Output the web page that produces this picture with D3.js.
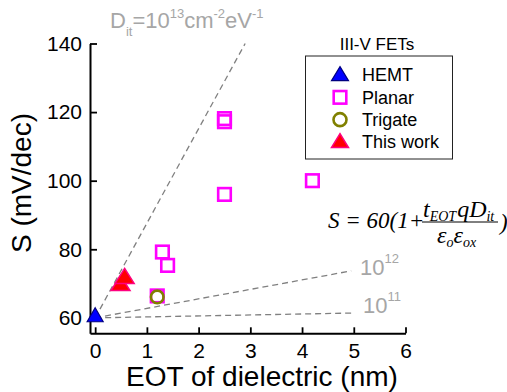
<!DOCTYPE html>
<html>
<head>
<meta charset="utf-8">
<script src="https://d3js.org/d3.v7.min.js"></script>
<style>
  body { margin: 0; background: #fff; }
  svg { font-family: Arial, "Liberation Sans", sans-serif; }
</style>
</head>
<body>
<svg width="507" height="392"></svg>
<script>
// data
const hemt = [[0, 60.5]];
const planar = [[2.5, 118.1], [2.5, 117.2], [2.5, 96], [4.2, 100], [1.3, 79.2], [1.4, 75.3], [1.2, 66.4]];
const trigate = [[1.2, 66.1]];
const thisWork = [[0.49, 69.7], [0.57, 71.8]];

// D_it guide lines (endpoints)
const dit13 = [[0, 60], [2.9, 140]];
const dit12 = [[0, 60], [4.95, 73.7]];
const dit11 = [[0, 60], [4.95, 61.4]];

const xTicks = [0, 1, 2, 3, 4, 5, 6];
const yTicks = [60, 80, 100, 120, 140];
const legendItems = ["HEMT", "Planar", "Trigate", "This work"];

const svg = d3.select("svg");

const x = d3.scaleLinear().domain([-0.1, 6]).range([90, 405.5]);
const y = d3.scaleLinear().domain([55.5, 140]).range([333.3, 43.5]);

// guide lines
const line = d3.line().x(d => x(d[0])).y(d => y(d[1]));
svg.selectAll(".guide")
    .data([dit13, dit12, dit11])
    .join("path")
    .attr("class", "guide")
    .attr("d", line)
    .attr("fill", "none")
    .attr("stroke", "#808080")
    .attr("stroke-width", 1.3)
    .attr("stroke-dasharray", "6,4");

// axes
const yAxis = svg.append("g").attr("transform", "translate(90,0)");
yAxis.call(d3.axisLeft(y).tickValues(d3.range(70, 140, 20)).tickSize(-4).tickFormat(""));
yAxis.call(d3.axisLeft(y).tickValues(yTicks).tickSize(-7).tickPadding(8).tickSizeOuter(0).tickFormat(d3.format("d")));
yAxis.selectAll("text").attr("font-size", 21).attr("fill", "#000").attr("font-family", null);

const xAxis = svg.append("g").attr("transform", "translate(0,333.3)");
xAxis.call(d3.axisBottom(x).tickValues(d3.range(0.5, 6, 1)).tickSize(-4).tickFormat(""));
xAxis.call(d3.axisBottom(x).tickValues(xTicks).tickSize(-6).tickPadding(10).tickSizeOuter(0).tickFormat(d3.format("d")));
xAxis.selectAll("text").attr("font-size", 21).attr("fill", "#000").attr("font-family", null);

svg.selectAll(".domain").attr("stroke", "#000").attr("stroke-width", 2);
svg.selectAll(".tick line").attr("stroke", "#000").attr("stroke-width", 1.8);

// axis titles
svg.append("text")
    .attr("x", 262).attr("y", 386)
    .attr("text-anchor", "middle")
    .attr("font-size", 28)
    .text("EOT of dielectric (nm)");

svg.append("text")
    .attr("transform", "translate(31,183) rotate(-90)")
    .attr("text-anchor", "middle")
    .attr("font-size", 28)
    .text("S (mV/dec)");

// marker shapes
function triPath(w, h) {
  return `M0,${-h * 0.6}L${w / 2},${h * 0.4}L${-w / 2},${h * 0.4}Z`;
}

svg.selectAll(".planar")
    .data(planar)
    .join("rect")
    .attr("class", "planar")
    .attr("x", d => x(d[0]) - 6.3).attr("y", d => y(d[1]) - 6.3)
    .attr("width", 12.6).attr("height", 12.6)
    .attr("fill", "none")
    .attr("stroke", "#FF00FF")
    .attr("stroke-width", 2.6);

svg.selectAll(".trigate")
    .data(trigate)
    .join("circle")
    .attr("class", "trigate")
    .attr("cx", d => x(d[0])).attr("cy", d => y(d[1]))
    .attr("r", 6.3)
    .attr("fill", "none")
    .attr("stroke", "#808000")
    .attr("stroke-width", 2.6);

svg.selectAll(".hemt")
    .data(hemt)
    .join("path")
    .attr("class", "hemt")
    .attr("transform", d => `translate(${x(d[0])},${y(d[1])})`)
    .attr("d", triPath(16, 14))
    .attr("fill", "#0000FF")
    .attr("stroke", "#000080")
    .attr("stroke-width", 1.2);

svg.selectAll(".thiswork")
    .data(thisWork)
    .join("path")
    .attr("class", "thiswork")
    .attr("transform", d => `translate(${x(d[0])},${y(d[1])})`)
    .attr("d", triPath(19, 15))
    .attr("fill", "#FF0000")
    .attr("stroke", "#FF0080")
    .attr("stroke-width", 1.5);

// guide labels
const gray = "#a6a6a6";
const t13 = svg.append("text").attr("x", 110).attr("y", 28).attr("font-size", 22).attr("fill", gray);
t13.append("tspan").text("D");
t13.append("tspan").attr("font-size", 13).attr("dy", 8).text("it");
t13.append("tspan").attr("dy", -8).text("=10");
t13.append("tspan").attr("font-size", 13).attr("dy", -10).text("13");
t13.append("tspan").attr("dy", 10).text("cm");
t13.append("tspan").attr("font-size", 13).attr("dy", -10).text("-2");
t13.append("tspan").attr("dy", 10).text("eV");
t13.append("tspan").attr("font-size", 13).attr("dy", -10).text("-1");

function powLabel(px, py, exp) {
  const t = svg.append("text").attr("x", px).attr("y", py).attr("font-size", 22).attr("fill", gray);
  t.append("tspan").text("10");
  t.append("tspan").attr("font-size", 13).attr("dy", -12).text(exp);
}
powLabel(360, 275, "12");
powLabel(363, 313, "11");

// legend
svg.append("text")
    .attr("x", 377).attr("y", 50)
    .attr("text-anchor", "middle")
    .attr("font-size", 17)
    .text("III-V FETs");

svg.append("rect")
    .attr("x", 305.5).attr("y", 56)
    .attr("width", 147).attr("height", 103)
    .attr("fill", "#fff")
    .attr("stroke", "#222")
    .attr("stroke-width", 1);

const legendY = d3.scalePoint().domain(legendItems).range([75, 142]);
const lg = svg.selectAll(".lg")
    .data(legendItems)
    .join("g")
    .attr("class", "lg")
    .attr("transform", d => `translate(340,${legendY(d)})`);

lg.append("text")
    .attr("x", 22).attr("y", 0)
    .attr("dy", "0.36em")
    .attr("font-size", 18)
    .text(d => d);

lg.filter(d => d === "HEMT").append("path")
    .attr("d", triPath(17, 14))
    .attr("fill", "#0000FF").attr("stroke", "#000080").attr("stroke-width", 1.2);
lg.filter(d => d === "Planar").append("rect")
    .attr("x", -6.3).attr("y", -6.3).attr("width", 12.6).attr("height", 12.6)
    .attr("fill", "none").attr("stroke", "#FF00FF").attr("stroke-width", 2.6);
lg.filter(d => d === "Trigate").append("circle")
    .attr("r", 6.5)
    .attr("fill", "none").attr("stroke", "#808000").attr("stroke-width", 2.6);
lg.filter(d => d === "This work").append("path")
    .attr("d", triPath(17, 14))
    .attr("fill", "#FF0000").attr("stroke", "#FF0080").attr("stroke-width", 1.5);

// formula
const serif = "'Times New Roman', 'Liberation Serif', serif";
const f = svg.append("g").attr("font-family", serif).attr("font-style", "italic");
f.append("text").attr("x", 328).attr("y", 228).attr("font-size", 23).text("S = 60(1+");
const num = f.append("text").attr("x", 423).attr("y", 217).attr("font-size", 24);
num.append("tspan").text("t");
num.append("tspan").attr("font-size", 14).attr("dy", 4).text("EOT");
num.append("tspan").attr("dy", -4).attr("dx", 1).text("qD");
num.append("tspan").attr("font-size", 14).attr("dy", 4).text("it");
f.append("line")
    .attr("x1", 422).attr("x2", 498).attr("y1", 222).attr("y2", 222)
    .attr("stroke", "#000").attr("stroke-width", 1);
const den = f.append("text").attr("x", 437).attr("y", 243).attr("font-size", 24);
den.append("tspan").text("ε");
den.append("tspan").attr("font-size", 14).attr("dy", 4).text("o");
den.append("tspan").attr("dy", -4).text("ε");
den.append("tspan").attr("font-size", 14).attr("dy", 4).text("ox");
f.append("text").attr("x", 500).attr("y", 230).attr("font-size", 23).text(")");
</script>
</body>
</html>
